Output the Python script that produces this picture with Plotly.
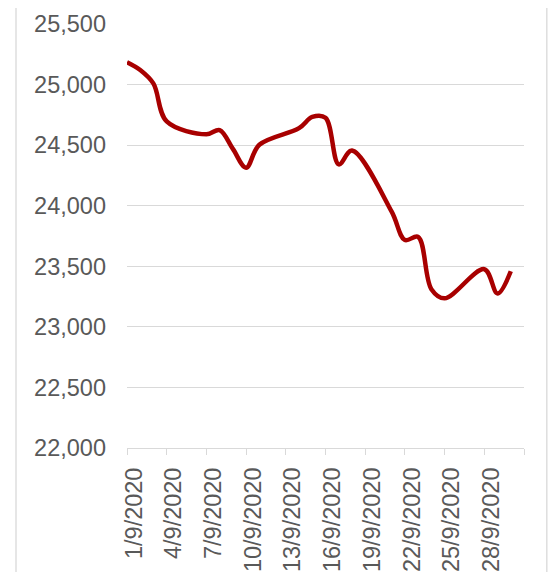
import plotly.graph_objects as go

dates = ["2020-09-01", "2020-09-02", "2020-09-03", "2020-09-04", "2020-09-07",
         "2020-09-08", "2020-09-09", "2020-09-10", "2020-09-11", "2020-09-14",
         "2020-09-15", "2020-09-16", "2020-09-17", "2020-09-18", "2020-09-21",
         "2020-09-22", "2020-09-23", "2020-09-24", "2020-09-25", "2020-09-28",
         "2020-09-29", "2020-09-30"]
values = [25184.85, 25120.09, 25007.60, 24695.45, 24589.65,
          24624.34, 24468.87, 24313.54, 24503.31, 24640.28,
          24732.76, 24725.62, 24340.85, 24455.36, 23950.69,
          23716.85, 23742.51, 23311.07, 23235.42, 23476.05,
          23275.53, 23459.05]

tick_dates = ["2020-09-01", "2020-09-04", "2020-09-07", "2020-09-10", "2020-09-13",
              "2020-09-16", "2020-09-19", "2020-09-22", "2020-09-25", "2020-09-28",
              "2020-10-01"]
tick_labels = ["1/9/2020", "4/9/2020", "7/9/2020", "10/9/2020", "13/9/2020",
               "16/9/2020", "19/9/2020", "22/9/2020", "25/9/2020", "28/9/2020", ""]

y_ticks = [22000, 22500, 23000, 23500, 24000, 24500, 25000, 25500]

FONT = "Liberation Sans, Arial, sans-serif"
GRID = "#d9d9d9"
TXT = "#595959"

fig = go.Figure()
fig.add_trace(go.Scatter(
    x=dates, y=values, mode="lines",
    line=dict(color="#a80000", width=4.5, shape="spline", smoothing=1.0),
    hoverinfo="x+y", showlegend=False,
))

fig.update_layout(
    width=540, height=564,
    margin=dict(l=119, r=24, t=16, b=124, pad=0, autoexpand=False),
    paper_bgcolor="white", plot_bgcolor="white",
    font=dict(family=FONT, size=23.5, color=TXT),
    showlegend=False,
    xaxis=dict(
        type="date", automargin=False,
        range=["2020-09-01", "2020-10-01"],
        tickvals=tick_dates, ticktext=tick_labels,
        tickangle=-90,
        ticks="outside", ticklen=6, tickcolor=GRID, tickwidth=1.3,
        ticklabelshift=7, ticklabelstandoff=3,
        showgrid=False, zeroline=False,
        showline=True, linecolor=GRID, linewidth=1.3,
        tickfont=dict(family=FONT, size=23.5, color=TXT),
    ),
    yaxis=dict(
        automargin=False,
        range=[22000, 25500],
        tickvals=y_ticks, tickformat=",",
        showgrid=True, gridcolor=GRID, gridwidth=1.3,
        zeroline=False, showline=False, ticks="",
        ticklabelstandoff=20,
        tickfont=dict(family=FONT, size=23.5, color=TXT),
    ),
    shapes=[
        dict(type="line", xref="paper", yref="paper", x0=-0.2796, x1=-0.2796,
             y0=-0.4, y1=1.1, line=dict(color=GRID, width=1.3), layer="below"),
        dict(type="line", xref="paper", yref="paper", x0=1.0575, x1=1.0575,
             y0=-0.4, y1=1.1, line=dict(color=GRID, width=1.3), layer="below"),
    ],
)

fig.write_html("out.html")
